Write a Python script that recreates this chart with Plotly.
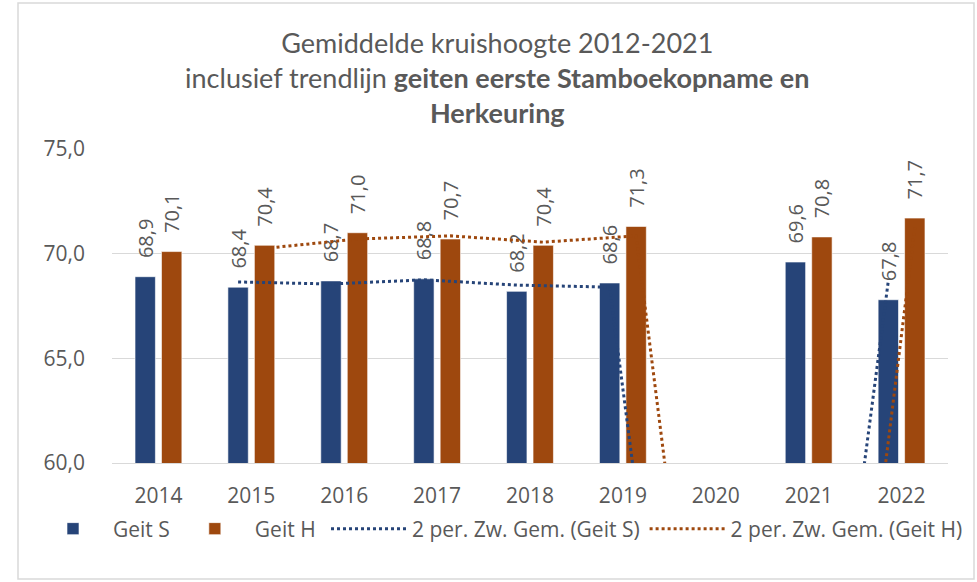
import plotly.graph_objects as go

years = ["2014", "2015", "2016", "2017", "2018", "2019", "2020", "2021", "2022"]
geit_s = [68.9, 68.4, 68.7, 68.8, 68.2, 68.6, None, 69.6, 67.8]
geit_h = [70.1, 70.4, 71.0, 70.7, 70.4, 71.3, None, 70.8, 71.7]
# 2-period moving average trendlines as drawn by Excel (empty 2020 counted as 0)
ma_s = [None, 68.65, 68.55, 68.75, 68.5, 68.4, 34.3, 34.8, 68.7]
ma_h = [None, 70.25, 70.7, 70.85, 70.55, 70.85, 35.65, 35.4, 71.25]

y_ticks = [60, 65, 70, 75]

C_S = "#264478"
C_H = "#9E480E"
TXT = "#595959"
FONT = "Open Sans"
pad = "\u00a0\u00a0\u00a0"

fig = go.Figure()
fig.add_trace(go.Bar(
    x=years, y=geit_s, name="Geit S", offsetgroup="S",
    marker=dict(color=C_S, line=dict(color="#ffffff", width=0.6)),
    texttemplate=pad + "%{y:.1f}", textposition="outside", textangle=-90,
    textfont=dict(family=FONT, size=20, color=TXT), cliponaxis=False,
    constraintext="none", legend="legend",
))
fig.add_trace(go.Bar(
    x=years, y=geit_h, name="Geit H", offsetgroup="H",
    marker=dict(color=C_H, line=dict(color="#ffffff", width=0.6)),
    texttemplate=pad + "%{y:.1f}", textposition="outside", textangle=-90,
    textfont=dict(family=FONT, size=20, color=TXT), cliponaxis=False,
    constraintext="none", legend="legend",
))
fig.add_trace(go.Scatter(
    x=years, y=ma_s, name="2 per. Zw. Gem. (Geit S)", offsetgroup="S",
    mode="lines", line=dict(color=C_S, width=3, dash="dot"),
    connectgaps=False, legend="legend2",
))
fig.add_trace(go.Scatter(
    x=years, y=ma_h, name="2 per. Zw. Gem. (Geit H)", offsetgroup="H",
    mode="lines", line=dict(color=C_H, width=3, dash="dot"),
    connectgaps=False, legend="legend2",
))

legend_common = dict(
    orientation="h", xref="container", yref="container",
    xanchor="left", y=0.0911, yanchor="middle",
    font=dict(family=FONT, size=21, color=TXT),
    traceorder="normal", bgcolor="rgba(0,0,0,0)",
)

fig.update_layout(
    width=977, height=582,
    paper_bgcolor="white", plot_bgcolor="white",
    margin=dict(l=112, r=29, t=149, b=119, autoexpand=False),
    barmode="group", bargap=0.43, bargroupgap=0.23,
    scattermode="group", scattergap=0.43,
    separators=",.",
    font=dict(family=FONT, color=TXT, size=20),
    title=dict(
        text="Gemiddelde kruishoogte 2012-2021<br>inclusief trendlijn <b>geiten eerste Stamboekopname en</b><br><b>Herkeuring</b>",
        x=0.509, xanchor="center", xref="container",
        y=0.909, yanchor="middle", yref="container",
        font=dict(family="Lato", size=27, color=TXT),
        automargin=False,
    ),
    xaxis=dict(
        type="category", showgrid=False, showline=True, linecolor="#d9d9d9", linewidth=1,
        tickfont=dict(family=FONT, size=21, color=TXT), ticks="", ticklabelstandoff=14,
        automargin=False,
    ),
    yaxis=dict(
        range=[60, 75], tickvals=y_ticks, tickformat=".1f",
        showgrid=True, gridcolor="#d9d9d9", gridwidth=1.3, zeroline=False,
        tickfont=dict(family=FONT, size=21, color=TXT), ticks="", ticklabelstandoff=26,
        automargin=False,
    ),
    legend=dict(legend_common, x=33 / 977, itemwidth=70),
    legend2=dict(legend_common, x=326 / 977, itemwidth=76),
    shapes=[dict(
        type="rect", xref="paper", yref="paper",
        x0=(18 - 112) / 836, x1=(974 - 112) / 836,
        y0=(463 - 579) / 314, y1=(463 - 3) / 314,
        line=dict(color="#d9d9d9", width=1.5), fillcolor="rgba(0,0,0,0)", layer="below",
    )],
)

fig.write_html(
    "out.html",
    config={"displayModeBar": False},
    post_script="document.body.style.margin='0';",
)
